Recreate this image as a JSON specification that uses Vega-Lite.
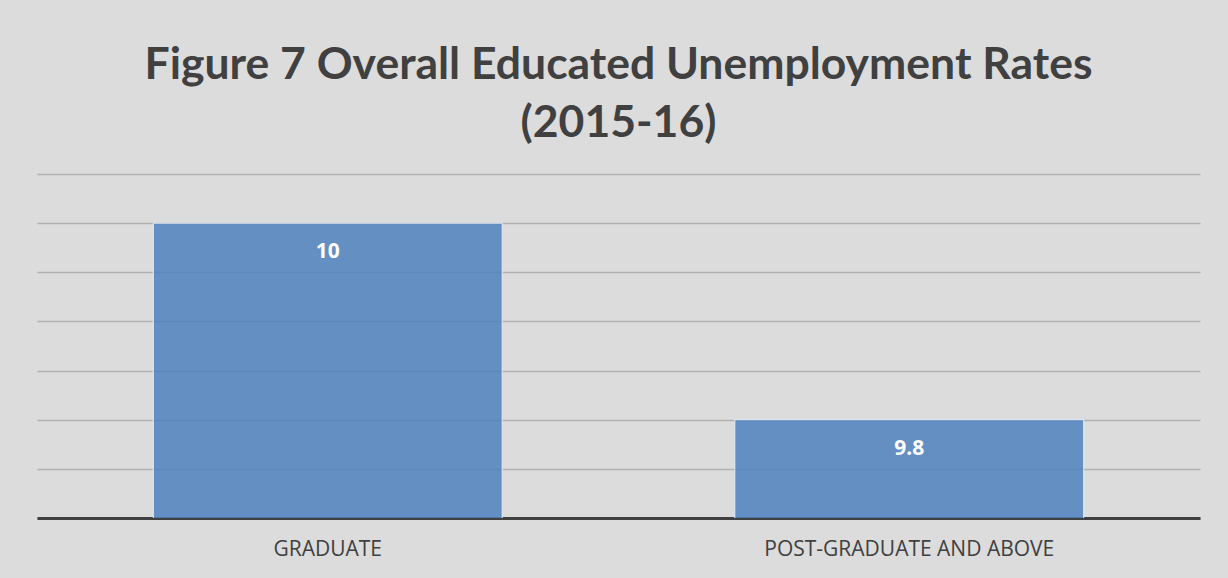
{
  "$schema": "https://vega.github.io/schema/vega-lite/v6.json",
  "autosize": "none",
  "width": 1163,
  "height": 344,
  "padding": {"left": 37, "top": 174, "right": 28, "bottom": 60},
  "background": "#dcdcdc",
  "title": {
    "text": ["Figure 7 Overall Educated Unemployment Rates", "(2015-16)"],
    "font": "Lato",
    "fontSize": 44.5,
    "fontWeight": "bold",
    "color": "#404040",
    "lineHeight": 58,
    "anchor": "middle",
    "offset": 28
  },
  "config": {"view": {"stroke": null}},
  "data": {
    "values": [
      {"level": "GRADUATE", "rate": 10},
      {"level": "POST-GRADUATE AND ABOVE", "rate": 9.8}
    ]
  },
  "encoding": {
    "x": {
      "field": "level",
      "type": "nominal",
      "sort": null,
      "scale": {"paddingInner": 0.4, "paddingOuter": 0.2},
      "axis": {
        "title": null,
        "labelAngle": 0,
        "labelFont": "Open Sans",
        "labelFontSize": 21,
        "labelColor": "#404040",
        "labelPadding": 20,
        "labelLimit": 0,
        "ticks": false,
        "domainColor": "#404040",
        "domainWidth": 3
      }
    },
    "y": {
      "field": "rate",
      "type": "quantitative",
      "scale": {"domain": [9.7, 10.05], "zero": false, "nice": false},
      "axis": {
        "title": null,
        "labels": false,
        "ticks": false,
        "domain": false,
        "values": [9.7, 9.75, 9.8, 9.85, 9.9, 9.95, 10, 10.05],
        "gridColor": "#9e9e9e",
        "gridOpacity": 0.7,
        "gridWidth": 1.5
      }
    }
  },
  "layer": [
    {
      "mark": {"type": "bar", "clip": true, "color": "#4f81bd", "fillOpacity": 0.85, "stroke": "#e6eef8", "strokeWidth": 1}
    },
    {
      "mark": {"type": "text", "baseline": "middle", "dy": 29, "font": "Open Sans", "fontSize": 21, "fontWeight": "bold", "color": "#ffffff"},
      "encoding": {"text": {"field": "rate", "type": "quantitative"}}
    }
  ]
}
